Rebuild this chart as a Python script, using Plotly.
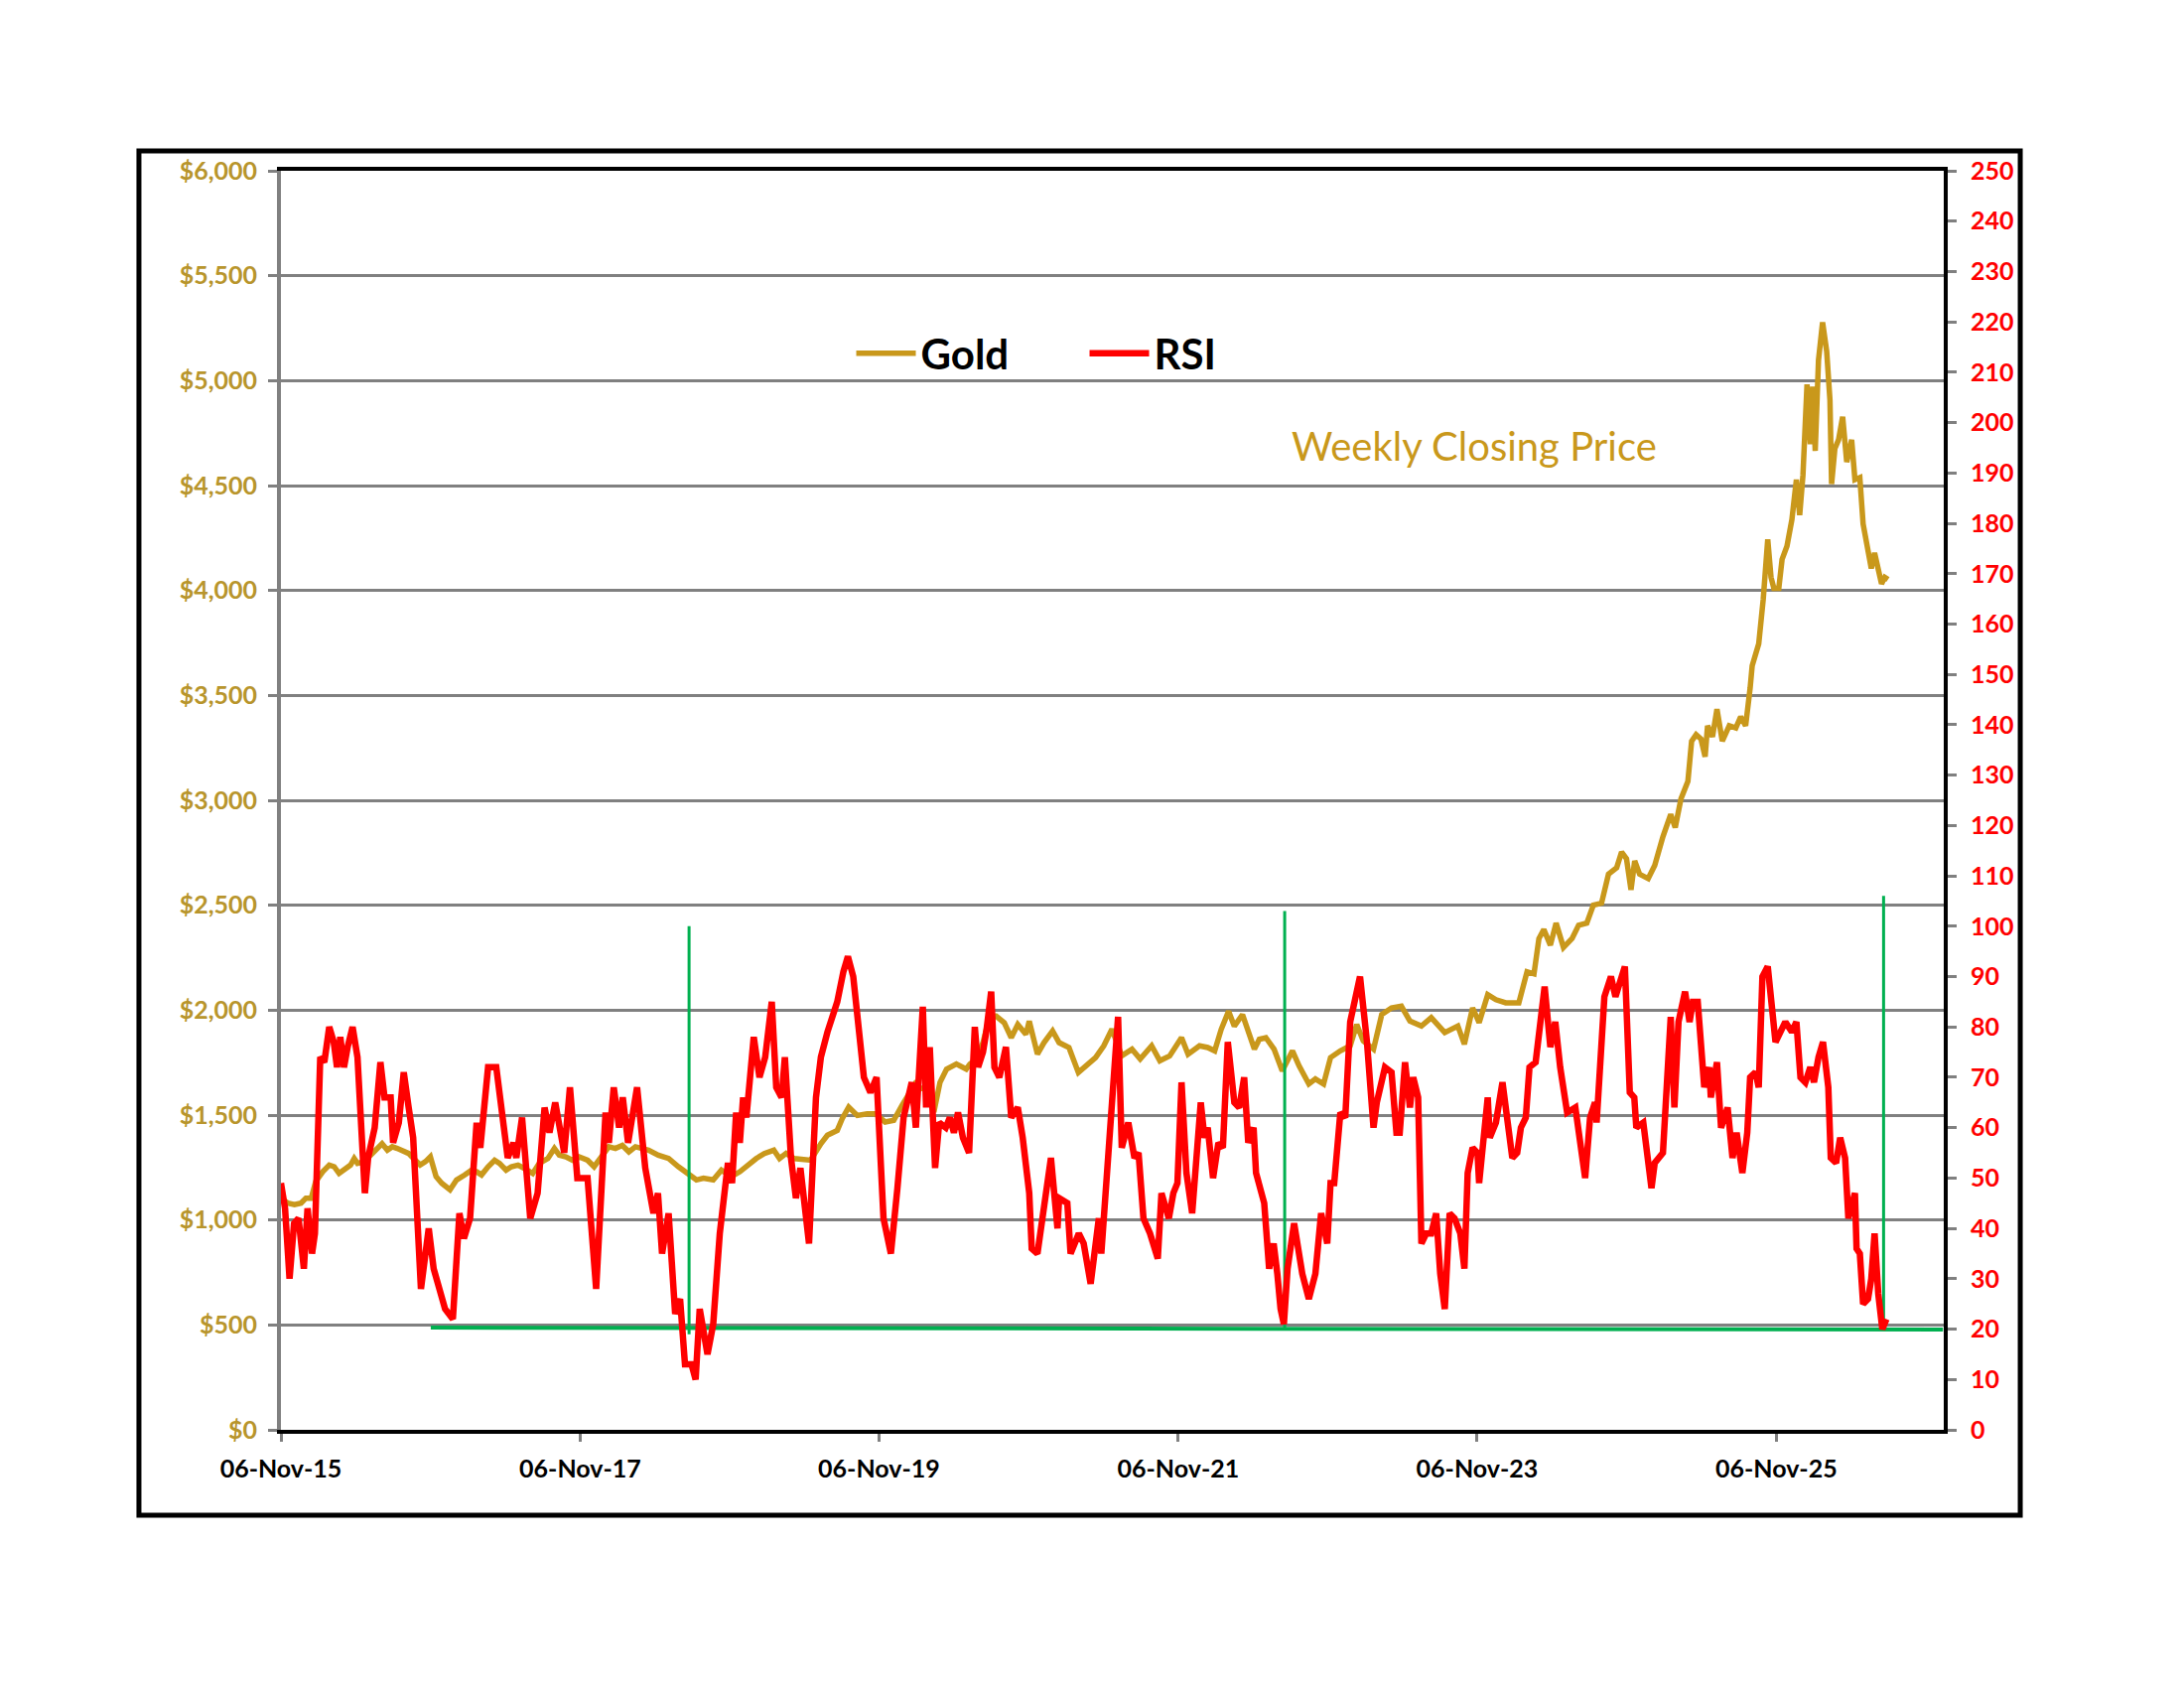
import plotly.graph_objects as go

# weekly gold close
gold_dates = [
    "2015-11-06", "2015-11-23", "2015-12-09", "2015-12-25", "2016-01-06", "2016-01-19", "2016-01-30",
    "2016-02-16", "2016-03-03", "2016-03-15", "2016-03-27", "2016-04-12", "2016-04-24", "2016-05-03",
    "2016-05-11", "2016-05-27", "2016-06-16", "2016-06-28", "2016-07-10", "2016-07-23", "2016-08-04",
    "2016-08-16", "2016-08-28", "2016-09-13", "2016-09-25", "2016-10-11", "2016-10-24", "2016-11-05",
    "2016-11-19", "2016-12-03", "2016-12-23", "2017-01-08", "2017-01-28", "2017-02-14", "2017-02-26",
    "2017-03-10", "2017-03-26", "2017-04-11", "2017-04-23", "2017-05-09", "2017-05-22", "2017-06-07",
    "2017-06-23", "2017-07-13", "2017-07-29", "2017-08-19", "2017-09-04", "2017-09-16", "2017-10-02",
    "2017-10-18", "2017-11-03", "2017-11-24", "2017-12-10", "2017-12-26", "2018-01-15", "2018-01-31",
    "2018-02-17", "2018-03-05", "2018-03-21", "2018-04-06", "2018-04-22", "2018-05-16", "2018-06-10",
    "2018-07-04", "2018-07-28", "2018-08-17", "2018-09-03", "2018-09-27", "2018-10-17", "2018-11-10",
    "2018-12-01", "2018-12-21", "2019-01-10", "2019-01-30", "2019-02-22", "2019-03-08", "2019-03-24",
    "2019-04-13", "2019-05-07", "2019-05-23", "2019-06-17", "2019-07-03", "2019-07-27", "2019-08-08",
    "2019-08-24", "2019-09-14", "2019-10-08", "2019-10-28", "2019-11-21", "2019-12-12", "2020-01-01",
    "2020-01-21", "2020-02-02", "2020-02-14", "2020-02-26", "2020-03-19", "2020-04-03", "2020-04-19",
    "2020-05-13", "2020-06-06", "2020-06-15", "2020-07-01", "2020-07-17", "2020-08-02", "2020-08-18",
    "2020-09-07", "2020-09-24", "2020-10-10", "2020-10-30", "2020-11-07", "2020-11-27", "2020-12-13",
    "2021-01-03", "2021-01-19", "2021-02-12", "2021-03-07", "2021-03-24", "2021-04-18", "2021-05-08",
    "2021-05-28", "2021-06-21", "2021-07-16", "2021-08-05", "2021-09-02", "2021-09-22", "2021-10-16",
    "2021-11-14", "2021-11-30", "2021-12-28", "2022-01-17", "2022-02-03", "2022-02-19", "2022-03-09",
    "2022-03-23", "2022-04-12", "2022-04-24", "2022-05-11", "2022-05-23", "2022-06-08", "2022-06-28",
    "2022-07-18", "2022-08-12", "2022-08-28", "2022-09-21", "2022-10-07", "2022-10-27", "2022-11-13",
    "2022-12-07", "2022-12-31", "2023-01-16", "2023-02-01", "2023-02-26", "2023-03-18", "2023-04-11",
    "2023-05-05", "2023-05-26", "2023-06-23", "2023-07-17", "2023-08-19", "2023-09-20", "2023-10-06",
    "2023-10-26", "2023-11-11", "2023-12-02", "2023-12-22", "2024-01-15", "2024-02-16", "2024-03-07",
    "2024-03-24", "2024-04-05", "2024-04-17", "2024-05-03", "2024-05-17", "2024-06-04", "2024-06-25",
    "2024-07-11", "2024-07-31", "2024-08-16", "2024-09-05", "2024-09-22", "2024-10-12", "2024-10-24",
    "2024-11-05", "2024-11-16", "2024-11-25", "2024-12-07", "2024-12-28", "2025-01-13", "2025-02-02",
    "2025-02-21", "2025-03-04", "2025-03-18", "2025-04-04", "2025-04-13", "2025-04-24", "2025-05-06",
    "2025-05-16", "2025-05-22", "2025-06-03", "2025-06-14", "2025-06-27", "2025-07-14", "2025-07-30",
    "2025-08-11", "2025-08-23", "2025-09-03", "2025-09-08", "2025-09-24", "2025-10-05", "2025-10-16",
    "2025-10-24", "2025-10-31", "2025-11-12", "2025-11-20", "2025-12-02", "2025-12-14", "2025-12-25",
    "2026-01-02", "2026-01-10", "2026-01-20", "2026-01-28", "2026-02-03", "2026-02-09", "2026-02-17",
    "2026-02-27", "2026-03-09", "2026-03-17", "2026-03-21", "2026-03-29", "2026-04-07", "2026-04-17",
    "2026-04-27", "2026-05-09", "2026-05-17", "2026-05-29", "2026-06-06", "2026-06-18", "2026-06-26",
    "2026-07-04", "2026-07-13", "2026-07-21", "2026-07-29", "2026-08-06",
]
gold_prices = [
    1104, 1080, 1073, 1080, 1104, 1104, 1183,
    1230, 1262, 1254, 1222, 1246, 1262, 1293,
    1270, 1278, 1317, 1333, 1364, 1333, 1349,
    1341, 1333, 1317, 1293, 1262, 1278, 1301,
    1207, 1175, 1144, 1191, 1215, 1238, 1230,
    1215, 1254, 1285, 1270, 1238, 1254, 1262,
    1246, 1222, 1270, 1293, 1341, 1309, 1301,
    1285, 1301, 1285, 1254, 1293, 1349, 1341,
    1356, 1325, 1349, 1341, 1333, 1309, 1293,
    1254, 1215, 1191, 1199, 1191, 1238, 1207,
    1230, 1262, 1293, 1317, 1333, 1293, 1317,
    1293, 1285, 1285, 1364, 1404, 1427, 1483,
    1538, 1498, 1506, 1506, 1467, 1475, 1546,
    1609, 1648, 1625, 1632, 1514, 1656, 1719,
    1743, 1719, 1743, 1767, 1845, 1972, 1972,
    1940, 1869, 1932, 1885, 1948, 1790, 1845,
    1901, 1845, 1822, 1703, 1735, 1774, 1830,
    1909, 1782, 1814, 1767, 1830, 1759, 1782,
    1869, 1790, 1830, 1822, 1806, 1909, 1995,
    1924, 1979, 1909, 1814, 1861, 1869, 1814,
    1711, 1806, 1735, 1648, 1672, 1648, 1774,
    1806, 1830, 1932, 1853, 1814, 1979, 2011,
    2019, 1948, 1924, 1964, 1893, 1924, 1838,
    2011, 1940, 2074, 2050, 2035, 2035, 2183,
    2173, 2341, 2384, 2310, 2415, 2299, 2341,
    2405, 2415, 2500, 2510, 2648, 2679, 2753,
    2722, 2574, 2711, 2648, 2627, 2690, 2827,
    2933, 2870, 3007, 3091, 3282, 3313, 3292,
    3208, 3355, 3303, 3434, 3282, 3355, 3345,
    3398, 3355, 3535, 3641, 3746, 3958, 4243,
    4063, 4010, 4010, 4148, 4211, 4338, 4528,
    4359, 4549, 4982, 4697, 4971, 4665, 5098,
    5278, 5140, 4908, 4507, 4676, 4718, 4828,
    4612, 4718, 4528, 4538, 4317, 4169, 4105,
    4179, 4105, 4032, 4063, 4053,
]

# weekly RSI (right axis)
rsi_dates = [
    "2015-11-06", "2015-11-16", "2015-11-27", "2015-12-08", "2015-12-19", "2016-01-01", "2016-01-10",
    "2016-01-21", "2016-01-28", "2016-02-10", "2016-02-20", "2016-03-03", "2016-03-14", "2016-03-22",
    "2016-03-30", "2016-04-08", "2016-04-17", "2016-04-29", "2016-05-11", "2016-05-29", "2016-06-06",
    "2016-06-22", "2016-07-06", "2016-07-16", "2016-07-31", "2016-08-06", "2016-08-20", "2016-09-01",
    "2016-09-13", "2016-09-24", "2016-10-13", "2016-11-01", "2016-11-13", "2016-11-29", "2016-12-11",
    "2016-12-30", "2017-01-15", "2017-01-26", "2017-02-10", "2017-02-26", "2017-03-07", "2017-03-26",
    "2017-04-15", "2017-05-13", "2017-05-27", "2017-06-03", "2017-06-17", "2017-07-07", "2017-07-25",
    "2017-08-11", "2017-08-23", "2017-09-06", "2017-09-28", "2017-10-12", "2017-10-30", "2017-11-24",
    "2017-12-15", "2018-01-07", "2018-01-15", "2018-01-27", "2018-02-09", "2018-02-18", "2018-03-03",
    "2018-03-25", "2018-04-14", "2018-05-04", "2018-05-15", "2018-05-25", "2018-06-10", "2018-06-26",
    "2018-07-08", "2018-07-20", "2018-08-05", "2018-08-15", "2018-08-25", "2018-09-13", "2018-09-27",
    "2018-10-13", "2018-11-02", "2018-11-12", "2018-11-22", "2018-12-01", "2018-12-09", "2018-12-17",
    "2019-01-04", "2019-01-18", "2019-02-01", "2019-02-17", "2019-02-28", "2019-03-13", "2019-03-21",
    "2019-04-05", "2019-04-17", "2019-04-28", "2019-05-19", "2019-06-05", "2019-06-17", "2019-07-03",
    "2019-07-27", "2019-08-11", "2019-08-22", "2019-09-04", "2019-09-18", "2019-09-30", "2019-10-16",
    "2019-10-31", "2019-11-17", "2019-12-05", "2019-12-21", "2020-01-05", "2020-01-25", "2020-02-04",
    "2020-02-21", "2020-02-29", "2020-03-09", "2020-03-22", "2020-04-01", "2020-04-17", "2020-04-27",
    "2020-05-07", "2020-05-17", "2020-05-29", "2020-06-13", "2020-06-27", "2020-07-05", "2020-07-17",
    "2020-07-25", "2020-08-06", "2020-08-14", "2020-08-26", "2020-09-11", "2020-09-24", "2020-10-10",
    "2020-10-22", "2020-11-07", "2020-11-13", "2020-11-27", "2020-12-13", "2020-12-30", "2021-01-15",
    "2021-01-19", "2021-02-08", "2021-02-16", "2021-03-08", "2021-03-20", "2021-04-06", "2021-04-26",
    "2021-05-02", "2021-05-21", "2021-06-12", "2021-06-21", "2021-07-07", "2021-07-22", "2021-08-01",
    "2021-08-13", "2021-08-29", "2021-09-17", "2021-09-26", "2021-10-14", "2021-10-25", "2021-11-04",
    "2021-11-14", "2021-11-26", "2021-12-10", "2021-12-31", "2022-01-09", "2022-01-17", "2022-01-30",
    "2022-02-12", "2022-02-23", "2022-03-07", "2022-03-23", "2022-04-04", "2022-04-16", "2022-04-26",
    "2022-05-09", "2022-05-15", "2022-06-04", "2022-06-16", "2022-06-27", "2022-07-06", "2022-07-14",
    "2022-07-22", "2022-07-31", "2022-08-16", "2022-09-05", "2022-09-21", "2022-10-07", "2022-10-21",
    "2022-11-05", "2022-11-13", "2022-11-22", "2022-12-07", "2022-12-19", "2022-12-31", "2023-01-24",
    "2023-02-10", "2023-02-26", "2023-03-06", "2023-03-26", "2023-04-11", "2023-04-23", "2023-05-01",
    "2023-05-14", "2023-05-26", "2023-06-03", "2023-06-15", "2023-06-23", "2023-07-05", "2023-07-17",
    "2023-07-29", "2023-08-08", "2023-08-19", "2023-08-31", "2023-09-12", "2023-09-26", "2023-10-06",
    "2023-10-14", "2023-10-26", "2023-11-07", "2023-11-11", "2023-11-24", "2023-12-02", "2023-12-07",
    "2023-12-22", "2024-01-07", "2024-01-19", "2024-01-31", "2024-02-12", "2024-02-21", "2024-03-04",
    "2024-03-13", "2024-03-28", "2024-04-19", "2024-05-03", "2024-05-15", "2024-05-27", "2024-06-13",
    "2024-07-03", "2024-07-27", "2024-08-08", "2024-08-20", "2024-08-24", "2024-09-01", "2024-09-12",
    "2024-09-28", "2024-10-09", "2024-11-01", "2024-11-13", "2024-11-24", "2024-11-29", "2024-12-16",
    "2025-01-05", "2025-01-13", "2025-02-02", "2025-02-21", "2025-03-02", "2025-03-12", "2025-03-28",
    "2025-04-08", "2025-04-16", "2025-04-28", "2025-05-06", "2025-05-14", "2025-05-26", "2025-05-30",
    "2025-06-14", "2025-06-24", "2025-07-10", "2025-07-22", "2025-08-01", "2025-08-15", "2025-08-27",
    "2025-09-03", "2025-09-16", "2025-09-24", "2025-10-03", "2025-10-16", "2025-11-04", "2025-11-28",
    "2025-12-14", "2025-12-25", "2026-01-04", "2026-01-16", "2026-01-28", "2026-02-06", "2026-02-17",
    "2026-02-28", "2026-03-13", "2026-03-19", "2026-04-01", "2026-04-11", "2026-04-23", "2026-05-01",
    "2026-05-17", "2026-05-21", "2026-05-29", "2026-06-06", "2026-06-18", "2026-06-26", "2026-07-04",
    "2026-07-13", "2026-07-23", "2026-08-02",
]
rsi_values = [
    49, 44, 30, 41, 42, 32, 44,
    35, 39, 74, 73, 80, 77, 72,
    78, 72, 76, 80, 74, 47, 54,
    60, 73, 66, 66, 57, 61, 71,
    64, 58, 28, 40, 32, 27, 24,
    22, 43, 38, 42, 61, 56, 72,
    72, 54, 57, 54, 62, 42, 47,
    64, 59, 65, 55, 68, 50, 50,
    28, 63, 57, 68, 60, 66, 57,
    68, 52, 43, 47, 35, 43, 23,
    26, 13, 13, 10, 24, 15, 21,
    39, 53, 49, 63, 57, 66, 62,
    78, 70, 74, 85, 68, 66, 74,
    54, 46, 52, 37, 66, 74, 79,
    85, 91, 94, 90, 79, 70, 67,
    70, 42, 35, 48, 62, 69, 60,
    84, 64, 76, 52, 61, 60, 62,
    59, 63, 58, 55, 80, 72, 75,
    79, 87, 72, 70, 76, 62, 64,
    58, 47, 36, 35, 45, 54, 40,
    46, 45, 35, 39, 37, 29, 42,
    35, 58, 82, 56, 61, 54, 55,
    42, 39, 34, 47, 42, 47, 49,
    69, 51, 43, 65, 58, 60, 50,
    57, 56, 77, 65, 64, 70, 57,
    60, 51, 45, 32, 37, 31, 24,
    21, 32, 41, 31, 26, 31, 43,
    37, 49, 49, 63, 62, 81, 90,
    77, 60, 65, 72, 71, 59, 59,
    73, 64, 70, 66, 37, 39, 39,
    43, 31, 24, 43, 42, 39, 32,
    51, 56, 55, 49, 59, 66, 58,
    61, 69, 62, 54, 55, 60, 62,
    72, 73, 88, 76, 81, 72, 63,
    64, 50, 62, 65, 61, 74, 86,
    90, 86, 92, 67, 66, 60, 61,
    48, 53, 55, 82, 64, 81, 87,
    81, 85, 85, 78, 68, 72, 66,
    73, 60, 64, 54, 59, 51, 59,
    70, 71, 68, 90, 92, 77, 81,
    79, 81, 70, 69, 72, 69, 74,
    77, 68, 54, 53, 58, 54, 42,
    47, 36, 35, 25, 26, 30, 39,
    27, 20, 22,
]

# green buy-signal markers and support level (RSI scale)
signal_dates = ["2018-07-30", "2022-07-24", "2026-07-26"]
signal_low = [19, 20, 20]
signal_high = [100, 103, 106]
support_dates = ["2016-11-06", "2026-12-18"]
support_rsi = [20.3, 19.9]

tick_dates = ["2015-11-06", "2017-11-06", "2019-11-06", "2021-11-06", "2023-11-06", "2025-11-06"]
tick_labels = ["06-Nov-15", "06-Nov-17", "06-Nov-19", "06-Nov-21", "06-Nov-23", "06-Nov-25"]

GOLD = "#C9981B"
GOLD_TXT = "#B8952C"
RED = "#FF0000"
GREEN = "#00B050"
FONT = "Lato"

fig = go.Figure()
fig.add_trace(go.Scatter(x=gold_dates, y=gold_prices, name="Gold", mode="lines",
                         line=dict(color=GOLD, width=5.5)))
for d, lo, hi in zip(signal_dates, signal_low, signal_high):
    fig.add_trace(go.Scatter(x=[d, d], y=[lo, hi], yaxis="y2", mode="lines", showlegend=False,
                             line=dict(color=GREEN, width=3), hoverinfo="skip"))
fig.add_trace(go.Scatter(x=support_dates, y=support_rsi, yaxis="y2", mode="lines", showlegend=False,
                         line=dict(color=GREEN, width=4), hoverinfo="skip"))
fig.add_trace(go.Scatter(x=rsi_dates, y=rsi_values, name="RSI", yaxis="y2", mode="lines",
                         line=dict(color=RED, width=6.5)))

fig.update_layout(
    width=2200, height=1700,
    margin=dict(l=275, r=250, t=164, b=268),
    paper_bgcolor="white", plot_bgcolor="white",
    font=dict(family=FONT),
    showlegend=True,
    legend=dict(orientation="h", x=0.343, y=0.855, xanchor="left", yanchor="middle",
                font=dict(size=42, color="black", family=FONT, weight="bold"),
                bgcolor="rgba(0,0,0,0)", itemwidth=60, entrywidth=160, entrywidthmode="pixels"),
    xaxis=dict(
        type="date", range=["2015-11-06", "2026-12-20"],
        tickvals=tick_dates, ticktext=tick_labels,
        showgrid=False, showline=True, linecolor="black", linewidth=4, mirror=True,
        ticks="outside", ticklen=8, tickwidth=3, tickcolor="#808080", ticklabelstandoff=6,
        tickfont=dict(size=25, color="black", family=FONT, weight="bold"),
    ),
    yaxis=dict(
        range=[0, 6000], dtick=500, tickprefix="$", tickformat=",",
        showgrid=True, gridcolor="#808080", gridwidth=2.5,
        showline=True, linecolor="#808080", linewidth=4,
        ticks="outside", ticklen=9, tickwidth=3, tickcolor="#808080", ticklabelstandoff=6,
        tickfont=dict(size=25, color=GOLD_TXT, family=FONT, weight="bold"),
        zeroline=False,
    ),
    yaxis2=dict(
        overlaying="y", side="right", range=[0, 250], dtick=10,
        showgrid=False, showline=True, linecolor="black", linewidth=4,
        ticks="outside", ticklen=9, tickwidth=3, tickcolor="#808080", ticklabelstandoff=9,
        tickfont=dict(size=25, color=RED, family=FONT, weight="bold"),
        zeroline=False,
    ),
)

fig.add_annotation(text="Weekly Closing Price", xref="paper", yref="paper", x=0.7176, y=0.7815,
                   xanchor="center", yanchor="middle", showarrow=False,
                   font=dict(size=40, color=GOLD, family=FONT))

# outer chart frame
fig.add_shape(type="rect", xref="paper", yref="paper", x0=-0.0854, x1=1.046, y0=-0.0678, y1=1.0158,
              line=dict(color="black", width=5), fillcolor="rgba(0,0,0,0)", layer="below")

fig.write_html("out.html")
